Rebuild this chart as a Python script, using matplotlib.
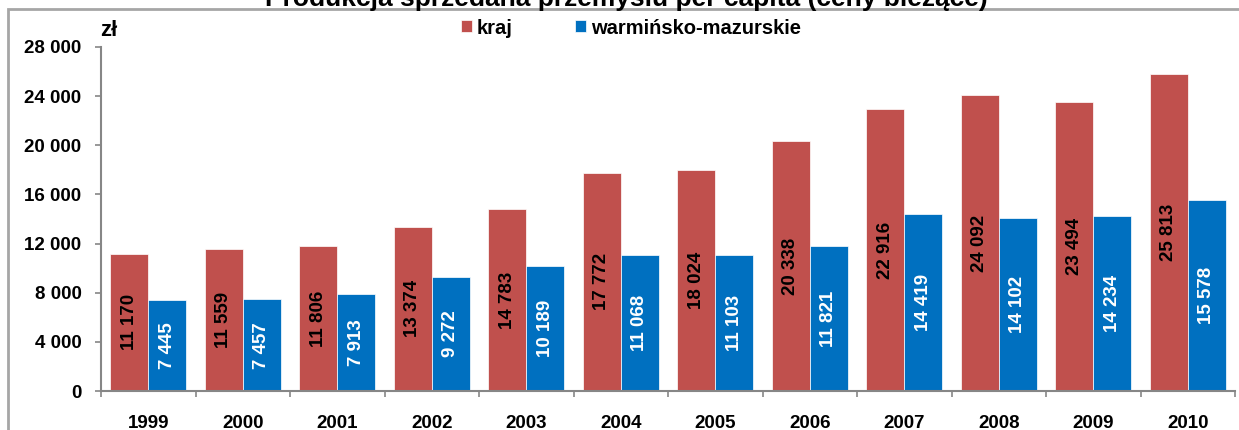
import matplotlib.pyplot as plt
import numpy as np
from matplotlib.patches import Rectangle

years = ['1999', '2000', '2001', '2002', '2003', '2004', '2005', '2006', '2007', '2008', '2009', '2010']
kraj = [11170, 11559, 11806, 13374, 14783, 17772, 18024, 20338, 22916, 24092, 23494, 25813]
wm = [7445, 7457, 7913, 9272, 10189, 11068, 11103, 11821, 14419, 14102, 14234, 15578]
yticks = [0, 4000, 8000, 12000, 16000, 20000, 24000, 28000]

plt.rcParams['font.family'] = ['Liberation Sans', 'DejaVu Sans']
plt.rcParams['font.weight'] = 'bold'

RED = '#c0504d'
BLUE = '#0070c0'
GRAY = '#868686'
FS = 13.5

def fmt(v):
    return f'{v:,}'.replace(',', ' ')

fig = plt.figure(figsize=(12.39, 4.30), dpi=100)
ax = fig.add_axes([101/1239, 1 - 391/430, 1134/1239, 344/430])

x = np.arange(len(years))
w = 0.4
b1 = ax.bar(x - w/2, kraj, w, color=RED, edgecolor='white', linewidth=0.5, label='kraj')
b2 = ax.bar(x + w/2, wm, w, color=BLUE, edgecolor='white', linewidth=0.5, label='warmińsko-mazurskie')

# value labels, rotated and centred in the bars
for xi, v in zip(x, kraj):
    ax.text(xi - w/2, v/2, fmt(v), rotation=90, ha='center', va='center',
            fontsize=FS, fontweight='bold', color='black')
for xi, v in zip(x, wm):
    ax.text(xi + w/2, v/2, fmt(v), rotation=90, ha='center', va='center',
            fontsize=FS, fontweight='bold', color='white')

ax.set_xlim(-0.5, len(years) - 0.5)
ax.set_ylim(0, 28000)
ax.set_yticks(yticks)
ax.set_yticklabels([fmt(t) for t in yticks], fontsize=FS, fontweight='bold')
ax.set_xticks(x)
ax.set_xticklabels(years, fontsize=FS, fontweight='bold')
ax.tick_params(axis='x', length=0, pad=17.5)
ax.set_xticks(np.arange(len(years) + 1) - 0.5, minor=True)
ax.tick_params(axis='x', which='minor', length=4, width=1.2, color=GRAY, direction='out')
ax.tick_params(axis='y', length=4, width=1.2, color=GRAY, pad=10)

for s in ['top', 'right']:
    ax.spines[s].set_visible(False)
for s in ['left', 'bottom']:
    ax.spines[s].set_color(GRAY)
    ax.spines[s].set_linewidth(1.5)

fig.text(100/1239, 1 - 30/430, 'zł', fontsize=16, fontweight='bold', va='center')

fig.legend(handles=[b1, b2], loc='center left', bbox_to_anchor=(461/1239, 1 - 28/430),
           ncol=2, frameon=False, fontsize=14.5, handlelength=0.55, handleheight=0.55,
           handletextpad=0.25, columnspacing=3.1, borderaxespad=0, borderpad=0)

fig.text(626/1239, 1 - 6/430, 'Produkcja sprzedana przemysłu per capita (ceny bieżące)',
         fontsize=19, fontweight='bold', ha='center', va='baseline')

# chart area border, cut by the image edges on the right and bottom
fig.patches.append(Rectangle((8/1239, -0.1), 1.1, 1 - 9/430 + 0.1, transform=fig.transFigure,
                             fill=False, edgecolor='#a6a6a6', linewidth=2))

fig.savefig('out.png', dpi=100)
